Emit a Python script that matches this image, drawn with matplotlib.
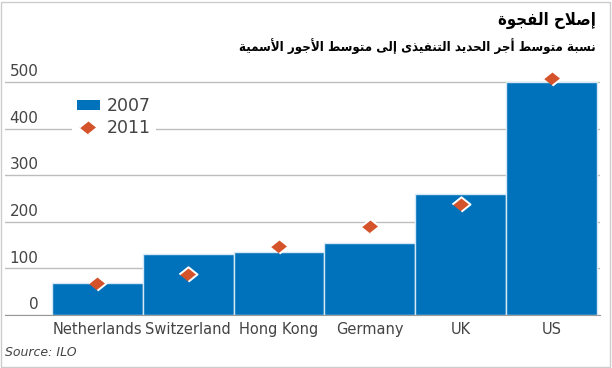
import matplotlib.pyplot as plt
import matplotlib.transforms as mtransforms
from matplotlib.patches import Patch, Rectangle
from matplotlib.lines import Line2D
import numpy as np

# =========================
# Data
# =========================
categories = ["Netherlands", "Switzerland", "Hong Kong", "Germany", "UK", "US"]
values_2007 = [68, 131, 136, 155, 260, 500]
values_2011 = [69, 87, 147, 191, 238, 508]
yticks = [0, 100, 200, 300, 400, 500]

title = "إصلاح الفجوة"
subtitle = "نسبة متوسط أجر الحديد التنفيذى إلى متوسط الأجور الأسمية"
source = "Source: ILO"

blue = "#0072bc"
orange = "#d4532b"


# =========================
# Minimal Arabic shaping (matplotlib has no bidi / joining)
# =========================
# char -> (base code of presentation form, dual joining?)
AR_FORMS = {
    "\u0621": (0xFE80, None), "\u0622": (0xFE81, False), "\u0623": (0xFE83, False),
    "\u0624": (0xFE85, False), "\u0625": (0xFE87, False), "\u0626": (0xFE89, True),
    "\u0627": (0xFE8D, False), "\u0628": (0xFE8F, True), "\u0629": (0xFE93, False),
    "\u062A": (0xFE95, True), "\u062B": (0xFE99, True), "\u062C": (0xFE9D, True),
    "\u062D": (0xFEA1, True), "\u062E": (0xFEA5, True), "\u062F": (0xFEA9, False),
    "\u0630": (0xFEAB, False), "\u0631": (0xFEAD, False), "\u0632": (0xFEAF, False),
    "\u0633": (0xFEB1, True), "\u0634": (0xFEB5, True), "\u0635": (0xFEB9, True),
    "\u0636": (0xFEBD, True), "\u0637": (0xFEC1, True), "\u0638": (0xFEC5, True),
    "\u0639": (0xFEC9, True), "\u063A": (0xFECD, True), "\u0641": (0xFED1, True),
    "\u0642": (0xFED5, True), "\u0643": (0xFED9, True), "\u0644": (0xFEDD, True),
    "\u0645": (0xFEE1, True), "\u0646": (0xFEE5, True), "\u0647": (0xFEE9, True),
    "\u0648": (0xFEED, False), "\u0649": (0xFEEF, False), "\u064A": (0xFEF1, True),
}
LAM_ALEF = {"\u0622": 0xFEF5, "\u0623": 0xFEF7, "\u0625": 0xFEF9, "\u0627": 0xFEFB}


def shape_arabic(text):
    tokens = []
    i = 0
    while i < len(text):
        c = text[i]
        if c == "\u0644" and i + 1 < len(text) and text[i + 1] in LAM_ALEF:
            tokens.append((LAM_ALEF[text[i + 1]], False))
            i += 2
            continue
        if c in AR_FORMS:
            tokens.append(AR_FORMS[c])
        else:
            tokens.append((c, None))
        i += 1

    out = []
    for k, (base, dual) in enumerate(tokens):
        if dual is None:
            out.append(base if isinstance(base, str) else chr(base))
            continue
        prev = tokens[k - 1] if k > 0 else (None, None)
        nxt = tokens[k + 1] if k + 1 < len(tokens) else (None, None)
        joins_prev = prev[1] is True
        joins_next = dual and nxt[1] is not None
        if joins_prev and joins_next:
            code = base + 3
        elif joins_prev:
            code = base + 1
        elif joins_next:
            code = base + 2
        else:
            code = base
        out.append(chr(code))
    return "".join(out)[::-1]


# =========================
# Figure
# =========================
fig = plt.figure(figsize=(6.12, 3.68), dpi=100)
ax = fig.add_axes([5 / 612, 53 / 368, 595 / 612, 254 / 368])

diamond = [(-1, 0), (0, 0.8), (1, 0), (0, -0.8)]

x = np.arange(len(categories))
ax.bar(x, values_2007, width=1.0, color=blue, edgecolor="#d6e8f5",
       linewidth=1, zorder=2)
ax.plot(x, values_2011, linestyle="none", marker=diamond, markersize=13,
        color=orange, markeredgecolor="white", markeredgewidth=1.4, zorder=3)

ax.set_xlim(-1.017, 5.533)
ax.set_ylim(0, 545)

ax.set_yticks(yticks)
ax.set_yticklabels([str(v) for v in yticks])
ax.grid(axis="y", color="#bdbdbd", linewidth=1, zorder=0)
ax.set_axisbelow(True)
ax.tick_params(axis="y", length=0, pad=-24, labelsize=11, labelcolor="#444444")
offset = mtransforms.ScaledTranslation(0, 2 / 72, fig.dpi_scale_trans)
for lbl in ax.get_yticklabels():
    lbl.set_verticalalignment("bottom")
    lbl.set_transform(lbl.get_transform() + offset)

ax.set_xticks(x)
ax.set_xticklabels(categories)
ax.tick_params(axis="x", length=0, pad=5, labelsize=10.5, labelcolor="#444444")

for side in ["left", "right", "top"]:
    ax.spines[side].set_visible(False)
ax.spines["bottom"].set_color("#999999")

handles = [
    Patch(facecolor=blue, edgecolor="none"),
    Line2D([], [], linestyle="none", marker=diamond, markersize=13,
           color=orange, markeredgecolor="white", markeredgewidth=1.4),
]
leg = ax.legend(handles, ["2007", "2011"], loc="upper left",
                bbox_to_anchor=(67 / 595, (315 - 92) / 254), frameon=True,
                facecolor="white", edgecolor="none", framealpha=1,
                fontsize=12.5, handlelength=1.3, handleheight=0.45,
                handletextpad=0.4, labelspacing=0.2, borderpad=0.3,
                borderaxespad=0)
for t in leg.get_texts():
    t.set_color("#444444")

fig.text(596 / 612, 1 - 20 / 368, shape_arabic(title), ha="right", va="center",
         fontsize=12, fontweight="bold", family="DejaVu Sans",
         fontstretch="condensed")
fig.text(596 / 612, 1 - 46 / 368, shape_arabic(subtitle), ha="right", va="center",
         fontsize=9.5, fontweight="bold", family="DejaVu Sans",
         fontstretch="condensed")
fig.text(5 / 612, 1 - 352 / 368, source, ha="left", va="center",
         fontsize=9, style="italic", color="#444444")

fig.patches.append(Rectangle((1 / 612, 1 / 368), 609 / 612, 365 / 368,
                             transform=fig.transFigure, fill=False,
                             edgecolor="#cccccc", linewidth=1))

plt.savefig("out.png", dpi=100)
